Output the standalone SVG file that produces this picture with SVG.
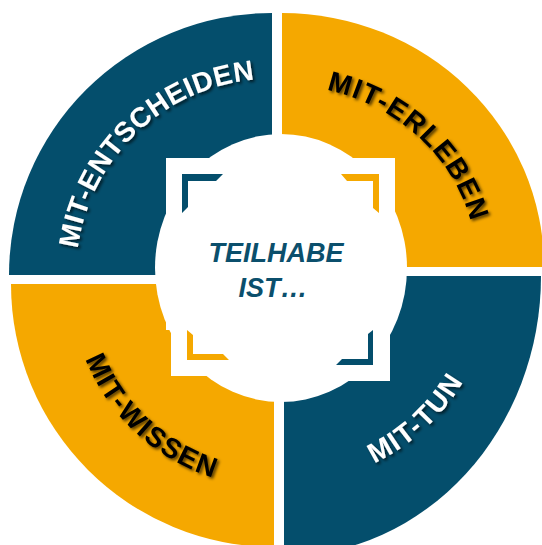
<svg xmlns="http://www.w3.org/2000/svg" width="542" height="545" viewBox="0 0 542 545">
  <defs>
    <style>
      .blue { fill: #044e6c; }
      .orange { fill: #f5a800; }
      .white { fill: #ffffff; }
      .lbl { font-family: "Liberation Sans", Arial, sans-serif; font-weight: bold; font-size: 28px; }
      .lw { fill: #ffffff; }
      .lk { fill: #000000; }
      .center { font-family: "Liberation Sans", Arial, sans-serif; font-weight: bold; font-style: italic; font-size: 27px; fill: #0b4f6c; }
    </style>
    <filter id="shadow" x="-20%" y="-20%" width="140%" height="140%">
      <feDropShadow dx="2" dy="2" stdDeviation="1.6" flood-color="#000000" flood-opacity="0.65"/>
    </filter>
    <path id="pTL" d="M 76 275 A 196 196 0 0 1 272 79"/>
    <path id="pTR" d="M 282 85 A 195 182 0 0 1 477 267"/>
    <path id="pBL" d="M 71 284 A 203 203 0 0 0 274 487"/>
    <path id="pBR" d="M 284 484 A 208 208 0 0 0 492 276"/>
  </defs>

  <g id="segment-mit-entscheiden">
    <path class="blue" d="M 272 275 L 9 275 A 263 262 0 0 1 272 13 Z"/>
    <text class="lbl lw" filter="url(#shadow)"><textPath href="#pTL" startOffset="51.5%" text-anchor="middle" letter-spacing="0.5">MIT-ENTSCHEIDEN</textPath></text>
  </g>

  <g id="segment-mit-erleben">
    <path class="orange" d="M 282 267 L 282 13 A 262 254 0 0 1 544 267 Z"/>
    <text class="lbl lk" filter="url(#shadow)"><textPath href="#pTR" startOffset="50%" text-anchor="middle" letter-spacing="1.5">MIT-ERLEBEN</textPath></text>
  </g>

  <g id="segment-mit-wissen">
    <path class="orange" d="M 274 284 L 11 284 A 263 263 0 0 0 274 547 Z"/>
    <text class="lbl lk" filter="url(#shadow)"><textPath href="#pBL" startOffset="52.5%" text-anchor="middle" letter-spacing="1.5">MIT-WISSEN</textPath></text>
  </g>

  <g id="segment-mit-tun">
    <path class="blue" d="M 284 276 L 541 276 A 257 280 0 0 1 284 556 Z"/>
    <text class="lbl lw" filter="url(#shadow)"><textPath href="#pBR" startOffset="47.5%" text-anchor="middle" letter-spacing="1.5">MIT-TUN</textPath></text>
  </g>

  <g id="center">
    <path class="white" d="M 166 158 L 395 158 L 395 270 L 390 270 L 390 381 L 281 381 L 281 376 L 171 376 L 171 330 L 166 330 Z"/>
    <ellipse class="white" cx="281" cy="268" rx="126" ry="134"/>
    <polygon class="blue" points="182,174 223,174 216,181 188,181 188,207 182,213"/>
    <polygon class="orange" points="341,174 379,174 379,213 373,208 373,181 347,181"/>
    <polygon class="orange" points="187,330 193,335 193,354 223,354 229,360 187,360"/>
    <polygon class="blue" points="373,330 373,365 336,365 342,359 368,359 368,334"/>
    <text class="center" x="276" y="262" text-anchor="middle">TEILHABE</text>
    <text class="center" x="273" y="297" text-anchor="middle">IST…</text>
  </g>
</svg>
